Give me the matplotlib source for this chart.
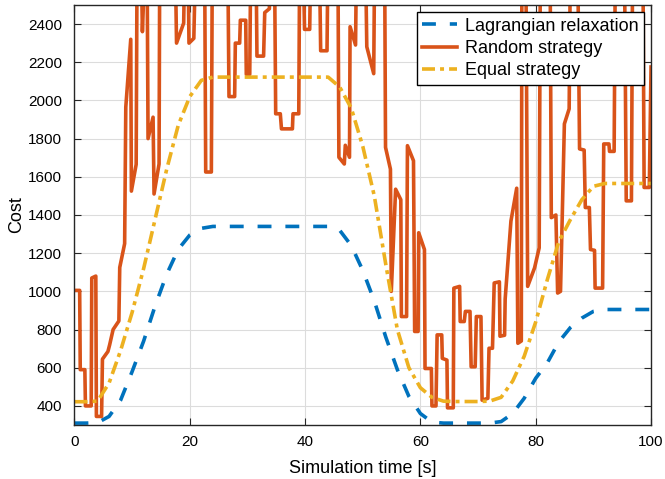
import numpy as np
import matplotlib
matplotlib.use('Agg')
import matplotlib.pyplot as plt

# --- smooth strategies, read every 2 s --- #
t_smooth = list(range(0, 101, 2))
lagrangian = [310, 310, 312, 345, 430, 580, 740, 925, 1090, 1220, 1295, 1330, 1340,
              1340, 1340, 1340, 1340, 1340, 1340, 1340, 1340, 1340, 1340, 1320, 1240,
              1110, 950, 760, 590, 450, 360, 315, 310, 310, 310, 310, 310, 318, 360,
              440, 545, 625, 735, 810, 860, 895, 905, 905, 905, 905, 905]
equal = [422, 422, 425, 520, 690, 890, 1120, 1380, 1640, 1870, 2020, 2105, 2122,
         2122, 2122, 2122, 2122, 2122, 2122, 2122, 2122, 2122, 2122, 2070, 1960,
         1760, 1500, 1140, 800, 600, 495, 445, 425, 423, 423, 423, 425, 445, 530,
         660, 840, 1060, 1260, 1375, 1480, 1550, 1565, 1565, 1565, 1565, 1565]

# --- random strategy vertices (time, cost); values above 2500 are cut by the axis --- #
t_random = [0, 0.9, 1.0, 1.8, 1.9, 2.9, 3.0, 3.7, 3.8, 4.7, 4.85, 5.8, 6.1, 6.7, 7.7,
            7.85, 8.7, 8.9, 9.76, 9.87, 10.7, 10.85, 11.6, 11.78, 12.2, 12.6, 12.76,
            13.63, 13.8, 14.67, 14.78, 17.5, 17.7, 18.94, 19.1, 19.7, 19.86, 20.7,
            20.97, 22.58, 22.76, 23.74, 23.9, 26.6, 26.8, 27.78, 27.9, 28.65, 28.77,
            29.7, 29.8, 30.4, 30.56, 31.5, 31.65, 32.8, 33.0, 33.8, 34.0, 34.7, 34.9,
            35.7, 35.9, 37.8, 37.9, 38.9, 39.05, 39.7, 39.9, 40.8, 40.95, 42.5, 42.7,
            43.8, 43.95, 45.7, 45.86, 46.8, 46.97, 47.7, 47.8, 48.75, 48.9, 50.5,
            50.7, 51.9, 52.05, 53.8, 53.95, 54.8, 54.95, 55.7, 56.6, 56.7, 57.6,
            57.75, 58.8, 59.0, 59.6, 59.7, 60.7, 60.8, 61.9, 62.0, 62.7, 62.9, 63.7,
            63.8, 64.6, 64.7, 65.7, 65.8, 66.8, 66.9, 67.6, 67.8, 68.6, 68.8, 69.5,
            69.7, 70.5, 70.7, 71.7, 71.9, 72.5, 72.8, 73.7, 73.8, 74.6, 74.7, 75.7,
            76.7, 76.9, 77.5, 77.6, 78.3, 78.6, 79.8, 80.6, 80.8, 82.5, 82.7, 83.5,
            83.8, 84.3, 84.97, 85.8, 86.0, 87.3, 87.6, 88.4, 88.6, 89.3, 89.5, 90.2,
            90.3, 91.6, 91.8, 92.7, 92.8, 93.6, 93.8, 95.4, 95.7, 96.6, 96.8, 98.6,
            98.8, 99.7, 100]
random_cost = [1005, 1005, 590, 590, 400, 400, 1070, 1080, 345, 345, 645, 685, 720, 800, 845,
               1125, 1250, 1965, 2320, 1525, 1665, 2700, 2700, 2360, 2700, 2700, 1800,
               1912, 1510, 1667, 2700, 2700, 2300, 2405, 2700, 2700, 2300, 2325,
               2700, 2700, 1625, 1625, 2700, 2700, 2020, 2020, 2300, 2300, 2420,
               2420, 2137, 2137, 2700, 2700, 2232, 2232, 2460, 2480, 2700, 2700, 1930,
               1930, 1851, 1851, 1930, 1930, 2700, 2700, 2372, 2372, 2700, 2700, 2260,
               2260, 2700, 2700, 1702, 1667, 1765, 1702, 2386, 2290, 2700, 2700,
               2281, 2140, 2700, 2700, 1754, 1640, 1000, 1535, 1480, 868, 868,
               1763, 1684, 790, 790, 1307, 1219, 596, 596, 400, 400, 772, 772,
               649, 640, 390, 390, 1017, 1026, 842, 842, 895, 895, 605, 605,
               868, 868, 430, 440, 702, 702, 1044, 1050, 765, 770, 960, 1368,
               1540, 728, 740, 2700, 2700, 1026, 1123, 1228, 2700, 2700, 1386, 1400,
               991, 1000, 1877, 1956, 2700, 2700, 1746, 1740, 1439, 1439, 1219, 1215,
               1017, 1017, 1772, 1772, 1733, 1733, 2700, 2700, 1474, 1474, 2700, 2700,
               1544, 1544, 2175]

plt.rcParams['font.family'] = ['Liberation Sans', 'DejaVu Sans']

fig = plt.figure(figsize=(6.65, 4.79), dpi=100)
ax = fig.add_axes([0.112, 0.1127, 0.867, 0.877])

ax.plot(t_smooth, lagrangian, color='#0072BD', lw=2.6, dashes=[3.85, 3.85], label='Lagrangian relaxation')
ax.plot(t_random, random_cost, color='#D95319', lw=2.6, label='Random strategy')
ax.plot(t_smooth, equal, color='#EDB120', lw=2.6, dashes=[3.6, 1.4, 1.1, 1.4], label='Equal strategy')

ax.set_xlim(0, 100)
ax.set_ylim(300, 2500)
ax.set_xticks(range(0, 101, 20))
ax.set_yticks(range(400, 2401, 200))
ax.tick_params(direction='in', top=True, right=True, labelsize=11, length=5, color='#262626')
ax.tick_params(axis='y', pad=9)
ax.tick_params(axis='x', pad=7)
ax.grid(True, color='#dcdcdc', lw=0.8)
ax.set_axisbelow(True)
for s in ax.spines.values():
    s.set_color('#262626')
    s.set_linewidth(1.0)

ax.set_xlabel('Simulation time [s]', fontsize=13, labelpad=8)
ax.set_ylabel('Cost', fontsize=13, labelpad=2)

leg = ax.legend(loc='upper right', fontsize=13, fancybox=False, framealpha=1,
                edgecolor='black', borderpad=0.3, labelspacing=0.3, handlelength=1.9,
                handletextpad=0.45, borderaxespad=0.4)
leg.get_frame().set_linewidth(1.0)

fig.savefig('out.png', dpi=100)
